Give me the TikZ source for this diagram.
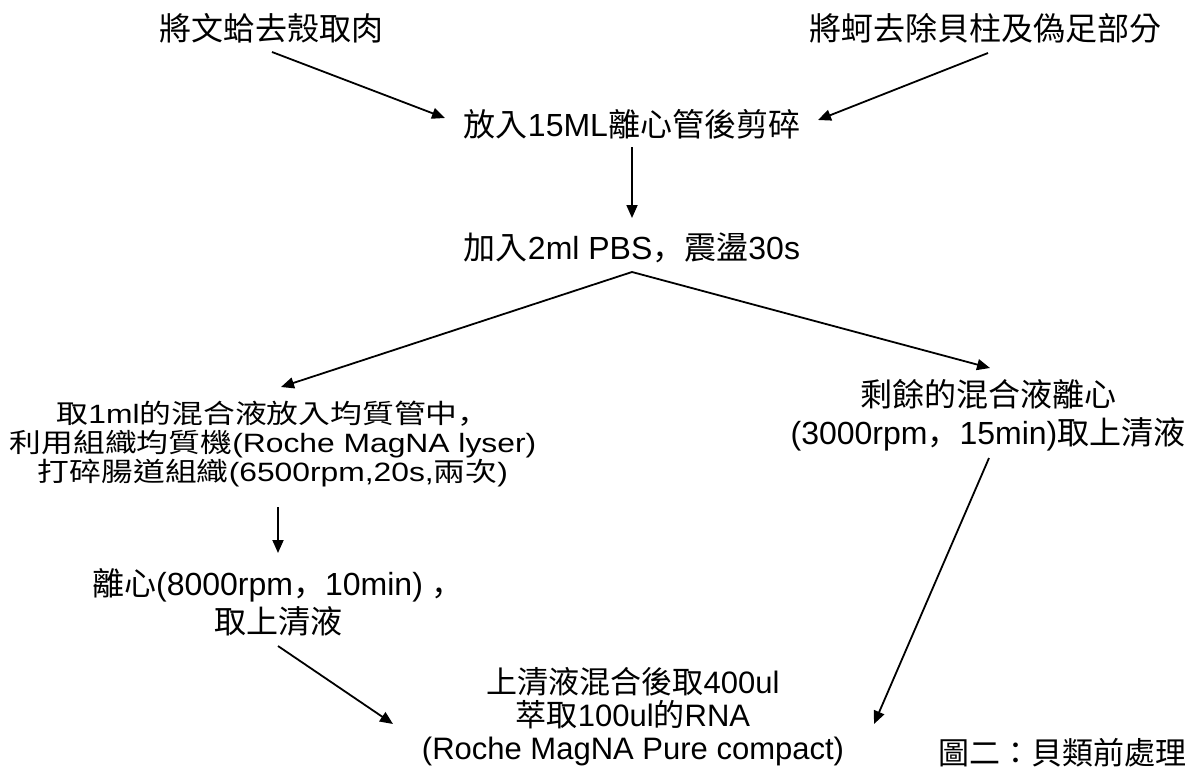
\documentclass[tikz,border=0pt]{standalone}
\usepackage{fontspec}
\setmainfont{Liberation Sans}
\newfontfamily\cjkfont{Noto Sans CJK TC}
\newfontfamily\cjkpunct{Noto Sans CJK SC}
\newcommand{\zh}[1]{{\cjkfont #1}}
\newcommand{\zc}{{\cjkpunct ，}}
\usetikzlibrary{arrows.meta}
\tikzset{
  txt/.style={inner sep=0pt, align=center, font=\fontsize{32}{38}\selectfont},
  smalltxt/.style={inner sep=0pt, align=center, font=\fontsize{26.5}{29}\selectfont},
  bottomtxt/.style={inner sep=0pt, align=center, font=\fontsize{31}{33}\selectfont},
  arr/.style={line width=1.8pt, -{Triangle[length=13pt,width=11pt]}}
}
\begin{document}
\begin{tikzpicture}[x=1pt,y=-1pt]
\fill[white] (0,0) rectangle (1193,782);
\useasboundingbox (0,0) rectangle (1193,782);
\node[txt] (n1) at (271,28) {\zh{將文蛤去殼取肉}};
\node[txt] (n2) at (985,28) {\zh{將蚵去除貝柱及偽足部分}};
\node[txt] (n3) at (632,124) {\zh{放入}15ML\zh{離心管後剪碎}};
\node[txt] (n4) at (632,248) {\zh{加入}2ml PBS\zc\zh{震盪}30s};
\begin{scope}[shift={(273,444)}, xscale=1.2]
\node[smalltxt, transform shape] (n5) at (0,0) {\zh{取}1ml\zh{的混合液放入均質管中}\zc\\\zh{利用組織均質機}(Roche MagNA lyser)\\\zh{打碎腸道組織}(6500rpm,20s,\zh{兩次})};
\end{scope}
\node[txt] (n6) at (988,415) {\zh{剩餘的混合液離心}\\(3000rpm\zc15min)\zh{取上清液}};
\node[txt] (n8) at (278,602) {\zh{離心}(8000rpm\zc10min) \zc\\\zh{取上清液}};
\node[bottomtxt] (n7) at (633,717) {\zh{上清液混合後取}400ul\\\zh{萃取}100ul\zh{的}RNA\\(Roche MagNA Pure compact)};
\node[txt, font=\fontsize{31}{35}\selectfont] (n9) at (1062,753) {\zh{圖二：貝類前處理}};
\draw[arr] ([shift={(1,24)}]n1.center) -- ([shift={(-187,-6)}]n3.center);
\draw[arr] ([shift={(3,25)}]n2.center) -- ([shift={(186,-4)}]n3.center);
\draw[arr] ([shift={(0,23)}]n3.center) -- ([shift={(0,-30)}]n4.center);
\draw[arr] ([shift={(0,24)}]n4.center) -- ([shift={(8,-57)}]n5.center);
\draw[arr] ([shift={(0,24)}]n4.center) -- ([shift={(2,-47)}]n6.center);
\draw[arr] ([shift={(5,63)}]n5.center) -- ([shift={(0,-49)}]n8.center);
\draw[arr] ([shift={(0,44)}]n8.center) -- ([shift={(-240,7)}]n7.center);
\draw[arr] ([shift={(1,43)}]n6.center) -- ([shift={(241,7)}]n7.center);
\end{tikzpicture}
\end{document}
